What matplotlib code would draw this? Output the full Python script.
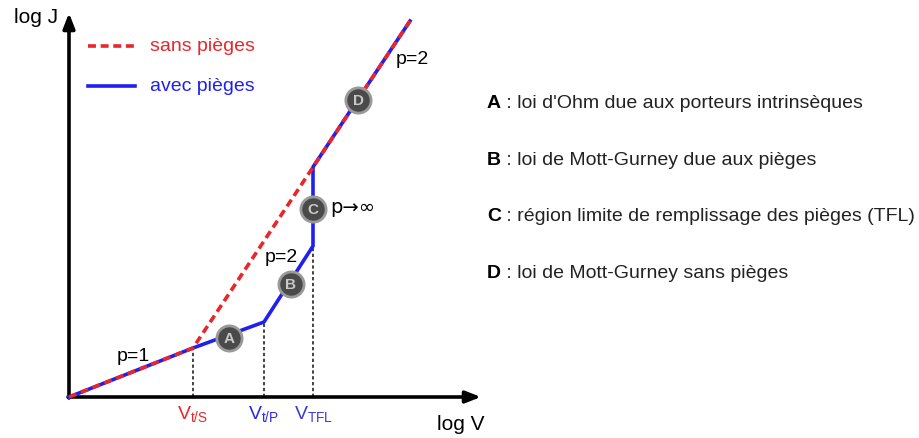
import matplotlib
matplotlib.use("Agg")
import matplotlib.pyplot as plt

plt.rcParams['font.family'] = ['Liberation Sans', 'DejaVu Sans']
plt.rcParams['mathtext.fontset'] = 'custom'
plt.rcParams['mathtext.rm'] = 'Liberation Sans'

# log V / log J in arbitrary units
x_sans = [0.0, 1.24, 3.41]
y_sans = [0.0, 0.49, 3.76]
x_avec = [0.0, 1.24, 1.95, 2.44, 2.44, 3.41]
y_avec = [0.0, 0.49, 0.75, 1.51, 2.30, 3.76]

v_marks = [1.24, 1.95, 2.44]
v_tops = [0.49, 0.75, 1.51]
v_labels = [r'V$_\mathrm{t/S}$', r'V$_\mathrm{t/P}$', r'V$_\mathrm{TFL}$']
v_colors = ['#e8262c', '#2a2ae0', '#3a3ad0']

regions = ['A', 'B', 'C', 'D']
region_x = [1.60, 2.22, 2.44, 2.89]
region_y = [0.59, 1.13, 1.88, 2.97]
descriptions = [
    "loi d'Ohm due aux porteurs intrinsèques",
    "loi de Mott-Gurney due aux pièges",
    "région limite de remplissage des pièges (TFL)",
    "loi de Mott-Gurney sans pièges",
]

red = '#e8262c'
blue = '#1f1ff0'

fig = plt.figure(figsize=(9.19, 4.39), dpi=100)
ax = fig.add_axes([0, 0, 1, 1])
ax.set_xlim(-0.69, 8.50)
ax.set_ylim(-0.41, 3.98)
ax.axis('off')

# axes with arrowheads
ax.annotate('', xy=(4.12, 0), xytext=(-0.01, 0),
            arrowprops=dict(arrowstyle='-|>,head_length=0.9,head_width=0.35',
                            color='black', lw=2.6, shrinkA=0, shrinkB=0))
ax.annotate('', xy=(0, 3.84), xytext=(0, -0.01),
            arrowprops=dict(arrowstyle='-|>,head_length=0.9,head_width=0.35',
                            color='black', lw=2.6, shrinkA=0, shrinkB=0))
ax.text(-0.33, 3.80, 'log J', fontsize=15, ha='center', va='center')
ax.text(3.92, -0.27, 'log V', fontsize=15, ha='center', va='center')

# drop lines to the voltage axis
for xv, yv, lab, col in zip(v_marks, v_tops, v_labels, v_colors):
    ax.plot([xv, xv], [0, yv], color='#222222', lw=1.2, ls=(0, (2, 1.5)), zorder=2)
    ax.text(xv, -0.17, lab, fontsize=14, ha='center', va='center', color=col)

ax.plot(x_avec, y_avec, color=blue, lw=2.6, zorder=3, solid_joinstyle='miter')
ax.plot(x_sans, y_sans, color=red, lw=2.6, ls=(0, (2.2, 1.3)), zorder=4)

# region markers
for lab, xr, yr in zip(regions, region_x, region_y):
    ax.scatter(xr, yr, s=330, color='#4a4a4a', edgecolors='#9a9a9a',
               linewidths=2, zorder=5)
    ax.text(xr, yr, lab, fontsize=11, fontweight='bold', color='#c8c8c8',
            ha='center', va='center', zorder=6)

ax.text(0.64, 0.41, 'p=1', fontsize=14, ha='center', va='center')
ax.text(2.12, 1.40, 'p=2', fontsize=14, ha='center', va='center')
ax.text(3.43, 3.38, 'p=2', fontsize=14, ha='center', va='center')
ax.text(2.61, 1.90, 'p→∞', fontsize=14, ha='left', va='center',
        family=['DejaVu Sans'])

# legend
ax.plot([0.19, 0.66], [3.51, 3.51], color=red, lw=2.6, ls=(0, (2.2, 1.3)))
ax.text(0.81, 3.51, 'sans pièges', fontsize=14, color=red, va='center')
ax.plot([0.19, 0.66], [3.11, 3.11], color=blue, lw=2.6)
ax.text(0.81, 3.11, 'avec pièges', fontsize=14, color=blue, va='center')

# region descriptions
for i, (lab, desc) in enumerate(zip(regions, descriptions)):
    yy = 2.94 - i * 0.565
    t = ax.text(4.18, yy, lab, fontsize=14, fontweight='bold', va='center')
    ax.annotate(' : ' + desc, xy=(1, 0.5), xycoords=t, fontsize=14,
                va='center', ha='left', color='#222222')

fig.savefig('out.png', dpi=100)
